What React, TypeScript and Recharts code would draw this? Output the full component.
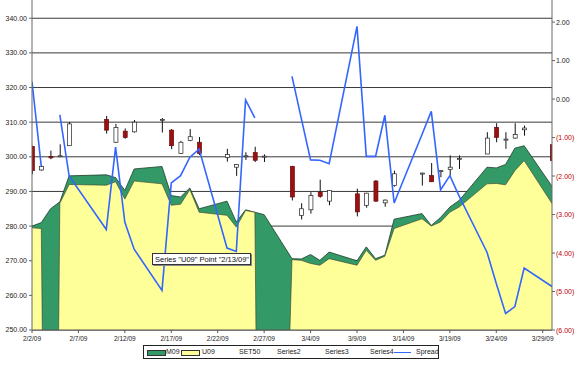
import React from "react";
import { Area, Bar, CartesianGrid, ComposedChart, Line, XAxis, YAxis } from "recharts";

// trading days shown on the chart (date axis, weekends/holidays absent)
const dates = [
  "2/2/09", "2/3/09", "2/4/09", "2/5/09", "2/6/09",
  "2/10/09", "2/11/09", "2/12/09", "2/13/09",
  "2/16/09", "2/17/09", "2/18/09", "2/19/09", "2/20/09",
  "2/23/09", "2/24/09", "2/25/09", "2/26/09", "2/27/09",
  "3/2/09", "3/3/09", "3/4/09", "3/5/09", "3/6/09",
  "3/9/09", "3/10/09", "3/11/09", "3/12/09", "3/13/09",
  "3/16/09", "3/17/09", "3/18/09", "3/19/09", "3/20/09",
  "3/23/09", "3/24/09", "3/25/09", "3/26/09", "3/27/09",
  "3/30/09",
];

const m09 = [
  280, 281, 285, 287, 294.5,
  294.8, 294, 290.3, 296.5,
  297.2, 288.8, 288.4, 291, 285,
  287.2, 281.2, 284.7, 284, 283.3,
  270.6, 270.5, 271.8, 270.1, 272.5,
  270, 274, 270.6, 271.6, 282,
  283.6, 280.2, 282.5, 285.5, 287.4,
  297, 296.8, 297.8, 302.5, 303.2,
  291.5,
];

// zeros are the missing U09 prices (area drops to the floor)
const u09 = [
  279.5, 279.3, 0, 286.6, 292,
  291.8, 292.8, 287.8, 293,
  292.2, 286, 286.3, 290.5, 284,
  283.1, 279.7, 284.5, 284, 0,
  270.3, 270.1, 269.2, 268.7, 270.6,
  268.7, 273, 270.1, 271.3, 279.3,
  282.1, 280, 281.2, 284, 285.5,
  292.2, 292.3, 291.9, 296, 298.9,
  286.5,
];

const spread = [
  0.45, -1.75, null, -0.41, -2.0,
  -3.39, -1.25, -3.2, -3.9,
  -4.97, -2.18, -1.99, -1.51, -1.3,
  -3.87, -3.96, -0.02, -0.49, null,
  0.59, -0.5, -1.58, -1.59, -1.68,
  1.89, -1.49, -1.49, -0.42, -2.7,
  -0.92, -0.32, -2.36, -1.99, -2.52,
  -3.98, -4.79, -5.57, -5.39, -4.39,
  -4.87,
];

// SET50 / Series2 / Series3 / Series4 = open, high, low, close
const set50 = [
  303, 296.2, 300.1, 300.1, 303.2,
  310.8, 304.2, 307.4, 307.2,
  310.5, 307.7, 301, 304.7, 304.2,
  299.8, 297, 300.1, 301.2, 300,
  297.2, 283.1, 284.7, 289.8, 287.2,
  289.3, 286, 293, 286.7, 291.7,
  295, 294.6, 295.8, 296.3, 299.2,
  300.8, 308.5, 304.9, 305.4, 307.8,
  303.5,
];
const series2 = [
  303.2, 297.6, 301.8, 303.6, 310,
  311.8, 309.5, 308.2, 310.6,
  311.2, 308, 304.6, 308, 305.7,
  302.3, 297.9, 301.3, 302.9, 300.7,
  297.4, 286.6, 289.8, 293.4, 290.4,
  290.8, 289.6, 293.3, 287.7, 296,
  295.4, 298.2, 296.1, 300.4, 300.4,
  307.1, 309.7, 307.1, 309.7, 309,
  303.7,
];
const series3 = [
  295, 296, 299.3, 299.9, 303.2,
  306.7, 304, 305.2, 307,
  307, 302.2, 300.8, 304.5, 300.5,
  298.6, 294.5, 299.1, 298.5, 298.5,
  287.4, 281.9, 283.6, 288.2, 286,
  282.8, 285.3, 287, 285.6, 291.4,
  291.7, 292.7, 294.1, 294.6, 296.5,
  300.8, 304.2, 302.3, 305.2, 306.1,
  298.5,
];
const series4 = [
  296, 297.2, 299.7, 300.3, 309.5,
  307.7, 308.5, 305.6, 310,
  310.8, 303.2, 304.2, 305.8, 301,
  300.7, 297.8, 300.3, 299, 300.2,
  288.4, 285, 288.8, 288.6, 290.3,
  284.1, 289.5, 287.2, 287.5, 295.1,
  295.3, 292.8, 296, 297, 299.5,
  305.4, 305.6, 305.1, 306.4, 308.3,
  298.9,
];

const xTickDates = [
  "2/2/09", "2/7/09", "2/12/09", "2/17/09", "2/22/09", "2/27/09",
  "3/4/09", "3/9/09", "3/14/09", "3/19/09", "3/24/09", "3/29/09",
];
const axisEnd = "3/30/09";
const leftTicks = [250, 260, 270, 280, 290, 300, 310, 320, 330, 340];
const rightTicks = [-6, -5, -4, -3, -2, -1, 0, 1, 2];

const FONT = "Arial, 'Liberation Sans', sans-serif";

const toUtc = (s: string) => {
  const [m, d, y] = s.split("/").map(Number);
  return Date.UTC(2000 + y, m - 1, d);
};
const start = toUtc(dates[0]);
const dayOf = (s: string) => Math.round((toUtc(s) - start) / 86400000);
const labelOf = (day: number) => {
  const dt = new Date(start + day * 86400000);
  return `${dt.getUTCMonth() + 1}/${dt.getUTCDate()}/09`;
};

const data = dates.map((d, i) => ({
  day: dayOf(d),
  m09: m09[i],
  u09: u09[i],
  spread: spread[i],
  open: set50[i],
  high: series2[i],
  low: series3[i],
  close: series4[i],
  range: [series3[i], series2[i]],
}));

function Candle(props: any) {
  const { x, y, width, height, payload } = props;
  if (!payload || x == null) return null;
  const { open, high, low, close } = payload;
  const top0 = height < 0 ? y + height : y;
  const h = Math.abs(height);
  const ppu = h / (high - low || 1);
  const yOf = (v: number) => top0 + (high - v) * ppu;
  const cx = x + width / 2;
  const up = close >= open;
  const bTop = yOf(Math.max(open, close));
  const bBot = yOf(Math.min(open, close));
  return (
    <g>
      <line x1={cx} x2={cx} y1={top0} y2={top0 + h} stroke="#111" strokeWidth={1} />
      <rect
        x={x}
        y={bTop}
        width={width}
        height={Math.max(bBot - bTop, 1)}
        fill={up ? "#ffffff" : "#9b1111"}
        stroke={up ? "#222" : "#6a0a0a"}
        strokeWidth={0.7}
      />
    </g>
  );
}

function RightTick(props: any) {
  const { x, y, payload } = props;
  const v = payload.value as number;
  const txt = v < 0 ? `(${Math.abs(v).toFixed(2)})` : v.toFixed(2);
  return (
    <text x={x} y={y} dy={2.5} textAnchor="start" fontSize={7} fontFamily={FONT} fill={v < 0 ? "#c00000" : "#222"}>
      {txt}
    </text>
  );
}

const legendItems = [
  { name: "M09", swatch: "area", fill: "#339966", left: 3, textLeft: 22 },
  { name: "U09", swatch: "area", fill: "#ffff99", left: 37, textLeft: 58 },
  { name: "SET50", swatch: "none", left: 0, textLeft: 95 },
  { name: "Series2", swatch: "none", left: 0, textLeft: 133 },
  { name: "Series3", swatch: "none", left: 0, textLeft: 181 },
  { name: "Series4", swatch: "none", left: 0, textLeft: 226 },
  { name: "Spread", swatch: "line", fill: "#3366ff", left: 250, textLeft: 272 },
];

export default function App() {
  return (
    <div style={{ position: "absolute", left: 0, top: 0, width: 579, height: 370, overflow: "hidden", background: "#fff" }}>
      <div style={{ position: "absolute", left: 0, top: -30 }}>
        <ComposedChart
          width={579}
          height={390}
          data={data}
          margin={{ top: 13.6, right: 0, bottom: 10, left: 0 }}
        >
          <CartesianGrid yAxisId="left" vertical={false} stroke="#3a3a3a" strokeWidth={1} />
          <XAxis
            dataKey="day"
            type="number"
            domain={[0, dayOf(axisEnd)]}
            ticks={xTickDates.map(dayOf)}
            tickFormatter={labelOf}
            allowDataOverflow
            height={20}
            tickSize={3}
            tickMargin={3}
            stroke="#555"
            tick={{ fontSize: 6.5, fontFamily: FONT, fill: "#222" }}
          />
          <YAxis
            yAxisId="left"
            orientation="left"
            domain={[250, 350]}
            ticks={leftTicks}
            allowDataOverflow
            width={32}
            tickSize={3}
            tickMargin={2}
            stroke="#666"
            tickFormatter={(v: number) => v.toFixed(2)}
            tick={{ fontSize: 7, fontFamily: FONT, fill: "#222" }}
          />
          <YAxis
            yAxisId="right"
            orientation="right"
            domain={[-6, 3]}
            ticks={rightTicks}
            allowDataOverflow
            width={27}
            tickSize={3}
            tickMargin={1}
            stroke="#666"
            tick={<RightTick />}
          />
          <Area
            yAxisId="left"
            type="linear"
            dataKey="m09"
            fill="#339966"
            fillOpacity={1}
            stroke="#1f3d2a"
            strokeWidth={0.8}
            baseValue={250}
            isAnimationActive={false}
          />
          <Area
            yAxisId="left"
            type="linear"
            dataKey="u09"
            fill="#ffff99"
            fillOpacity={1}
            stroke="#3a3a2a"
            strokeWidth={0.6}
            baseValue={250}
            isAnimationActive={false}
          />
          <Bar
            yAxisId="left"
            dataKey="range"
            barSize={4}
            shape={(p: any) => <Candle {...p} />}
            isAnimationActive={false}
          />
          <Line
            yAxisId="right"
            type="linear"
            dataKey="spread"
            stroke="#3366ff"
            strokeWidth={1.6}
            dot={false}
            activeDot={false}
            isAnimationActive={false}
          />
        </ComposedChart>
      </div>

      <div
        style={{
          position: "absolute",
          left: 152,
          top: 253,
          width: 99,
          height: 12,
          border: "1px solid #333",
          background: "#fff",
          boxShadow: "1px 1px 0 #888",
          fontFamily: FONT,
          fontSize: 7.5,
          lineHeight: "12px",
          paddingLeft: 2,
          boxSizing: "border-box",
          whiteSpace: "nowrap",
          color: "#111",
        }}
      >
        Series "U09" Point "2/13/09"
      </div>

      <div
        style={{
          position: "absolute",
          left: 143,
          top: 345,
          width: 296,
          height: 14,
          border: "1px solid #222",
          boxSizing: "border-box",
          background: "#fff",
          fontFamily: FONT,
          fontSize: 7,
          color: "#222",
        }}
      >
        {legendItems.map((it) => (
          <React.Fragment key={it.name}>
            {it.swatch === "area" && (
              <span
                style={{
                  position: "absolute",
                  left: it.left,
                  top: 4,
                  width: 17,
                  height: 4,
                  background: it.fill,
                  border: "0.7px solid #333",
                }}
              />
            )}
            {it.swatch === "line" && (
              <span
                style={{
                  position: "absolute",
                  left: it.left,
                  top: 5.5,
                  width: 17,
                  height: 1.5,
                  background: it.fill,
                }}
              />
            )}
            <span style={{ position: "absolute", left: it.textLeft, top: 2, lineHeight: "8px" }}>{it.name}</span>
          </React.Fragment>
        ))}
      </div>
    </div>
  );
}
